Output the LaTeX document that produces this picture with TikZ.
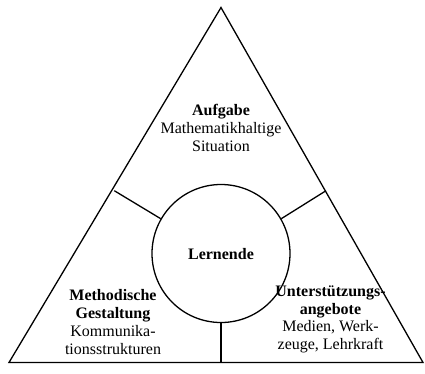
\documentclass[tikz,border=0pt]{standalone}
\usepackage{fontspec}
\setmainfont{Liberation Serif}
\begin{document}
\begin{tikzpicture}[x=1pt,y=-1pt,line width=1.3pt,
  lbl/.style={align=center,font=\fontsize{16}{17.7}\selectfont,inner sep=0pt}]
\useasboundingbox (0,0) rectangle (425,373);
\coordinate (A) at (221,7.5);
\coordinate (L) at (9,362.5);
\coordinate (R) at (423,362.5);
\draw[line join=miter] (A) -- (L) -- (R) -- cycle;
\node[circle,draw,minimum size=138pt,inner sep=0pt] (C) at (221,253.5) {};
\coordinate (SL) at (114.3,190.7);
\coordinate (SR) at (326,190.7);
\coordinate (B) at (221,362.5);
\draw (SL) -- (C.150);
\draw (SR) -- (C.30);
\draw (C.south) -- (B);
\node[lbl] (lern) at (221,254) {\textbf{Lernende}};
\node[lbl] (auf) at (221,128) {\textbf{Aufgabe}\\Mathematikhaltige\\Situation};
\node[lbl] (meth) at (113,322) {\textbf{Methodische}\\\textbf{Gestaltung}\\Kommunika-\\tionsstrukturen};
\node[lbl] (unt) at (330.5,319.5) {\textbf{Unterstützungs-}\\\textbf{angebote}\\Medien, Werk-\\zeuge, Lehrkraft};
\end{tikzpicture}
\end{document}
